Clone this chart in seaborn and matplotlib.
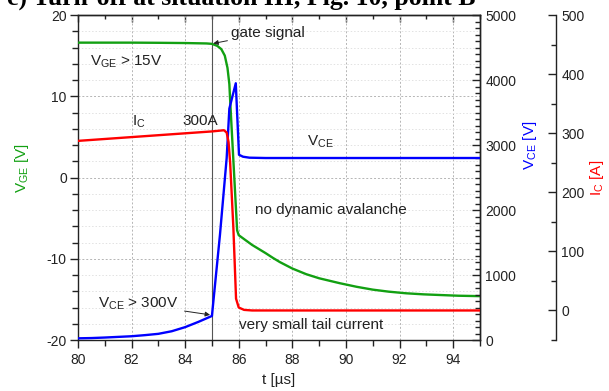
import numpy as np
import pandas as pd
import matplotlib
matplotlib.use('Agg')
import matplotlib.pyplot as plt
import seaborn as sns
from matplotlib.ticker import MultipleLocator

sns.set_theme(style='white')
plt.rcParams['font.family'] = ['Liberation Sans', 'DejaVu Sans']
plt.rcParams['mathtext.fontset'] = 'custom'
plt.rcParams['mathtext.rm'] = 'Liberation Sans'
plt.rcParams['mathtext.it'] = 'Liberation Sans'
plt.rcParams['mathtext.default'] = 'regular'
plt.rcParams['axes.unicode_minus'] = False

# ---- data ----
t_vge = [80, 81, 82, 83, 84, 84.8, 85.0, 85.2, 85.35, 85.48, 85.58, 85.65, 85.68,
         85.94, 86.0, 86.5, 87.0, 87.28, 87.53, 88.0, 88.52, 89.0, 89.76, 90.4,
         91.0, 91.6, 92.25, 92.9, 93.5, 94.2, 95.0]
vge = [16.6, 16.6, 16.6, 16.58, 16.55, 16.5, 16.45, 16.2, 15.8, 15.0, 13.5, 11.5, 9.5,
       -6.5, -7.1, -8.3, -9.3, -9.9, -10.4, -11.2, -11.9, -12.4, -13.0, -13.45,
       -13.8, -14.05, -14.25, -14.38, -14.46, -14.55, -14.6]

t_vce = [80, 80.5, 81, 81.5, 82, 82.5, 83, 83.5, 84, 84.5, 85.0, 85.3, 85.55, 85.65,
         85.89, 86.01, 86.16, 86.4, 87.0, 95.0]
vce = [26, 30, 38, 48, 58, 75, 95, 135, 198, 280, 370, 1620, 2800, 3560,
       3950, 2850, 2820, 2805, 2800, 2800]

t_ic = [80, 85.0, 85.45, 85.55, 85.62, 85.68, 85.8, 85.9, 86.0, 86.2, 86.5, 95.0]
ic = [287, 303, 305, 301, 285, 250, 140, 20, 5, 1, 0, 0]

x_ticks = [80, 82, 84, 86, 88, 90, 92, 94]
vge_ticks = [-20, -10, 0, 10, 20]
vce_ticks = [0, 1000, 2000, 3000, 4000, 5000]
ic_ticks = [0, 100, 200, 300, 400, 500]

GREEN = '#12a012'
BLUE = '#0000ff'
RED = '#ff0000'
SPINE = '#222222'

fig = plt.figure(figsize=(6.09, 3.91), dpi=100)
ax = fig.add_axes([0.128, 0.1304, 0.660, 0.8312])
ax2 = ax.twinx()
ax3 = ax.twinx()
ax3.spines['right'].set_position(('axes', 1.189))

df_g = pd.DataFrame({'t': t_vge, 'v': vge})
df_b = pd.DataFrame({'t': t_vce, 'v': vce})
df_r = pd.DataFrame({'t': t_ic, 'v': ic})

ax.axvline(85.0, color='#555555', lw=0.8, zorder=1)
sns.lineplot(data=df_g, x='t', y='v', ax=ax, color=GREEN, lw=1.7, sort=False, zorder=3)
sns.lineplot(data=df_b, x='t', y='v', ax=ax2, color=BLUE, lw=1.7, sort=False, zorder=3)
sns.lineplot(data=df_r, x='t', y='v', ax=ax3, color=RED, lw=1.7, sort=False, zorder=3)

# limits & ticks
ax.set_xlim(80, 95)
ax.set_ylim(-20, 20)
ax2.set_ylim(0, 5000)
ax3.set_ylim(-50, 500)
ax.set_xticks(x_ticks)
ax.set_yticks(vge_ticks)
ax.xaxis.set_minor_locator(MultipleLocator(1))
ax.yaxis.set_minor_locator(MultipleLocator(2))
ax2.set_yticks(vce_ticks)
ax2.yaxis.set_minor_locator(MultipleLocator(100))
ax3.set_yticks(ic_ticks)
ax3.yaxis.set_minor_locator(MultipleLocator(50))

fs = 10
ax.tick_params(axis='x', which='both', direction='out', bottom=True, top=False,
               labelsize=fs, colors=SPINE, pad=3)
ax.tick_params(axis='x', which='major', length=6, width=1)
ax.tick_params(axis='x', which='minor', length=4, width=1)
ax.tick_params(axis='y', which='both', direction='out', left=True, right=False,
               labelsize=fs, colors=SPINE, pad=2)
ax.tick_params(axis='y', which='major', length=6, width=1)
ax.tick_params(axis='y', which='minor', length=4, width=1)
for a in (ax2, ax3):
    a.tick_params(axis='y', which='both', direction='in', right=True, left=False,
                  labelsize=fs, colors=SPINE, pad=4)
    a.tick_params(axis='y', which='major', length=6, width=1)
    a.tick_params(axis='y', which='minor', length=3.5, width=1)

top = ax.secondary_xaxis('top')
top.set_xticks(x_ticks)
top.xaxis.set_minor_locator(MultipleLocator(1))
top.tick_params(axis='x', which='both', direction='in', labeltop=False, colors=SPINE)
top.tick_params(axis='x', which='major', length=5, width=1)
top.tick_params(axis='x', which='minor', length=3, width=1)
top.spines['top'].set_linewidth(1.0)
top.spines['top'].set_color(SPINE)

for s in ax.spines.values():
    s.set_linewidth(1.0)
    s.set_color(SPINE)
for s in ['left', 'top', 'bottom']:
    ax2.spines[s].set_visible(False)
    ax3.spines[s].set_visible(False)
ax2.spines['right'].set_linewidth(1.0)
ax2.spines['right'].set_color(SPINE)
ax3.spines['right'].set_linewidth(1.0)
ax3.spines['right'].set_color(SPINE)

# grid
ax.grid(which='major', axis='both', linestyle=(0, (2, 2)), color='#b5b5b5', lw=0.7)
ax.grid(which='minor', axis='y', linestyle=(0, (1.5, 2)), color='#e2e2e2', lw=0.7)
ax.set_axisbelow(True)

# labels
ax.set_xlabel('t [µs]', fontsize=11, color=SPINE)
ax.xaxis.set_label_coords(0.5, -0.103)
ax.set_ylabel('V$_{GE}$ [V]', fontsize=11, color=GREEN)
ax.yaxis.set_label_coords(-0.117, 0.53)
ax2.set_ylabel('V$_{CE}$ [V]', fontsize=11, color=BLUE)
ax2.yaxis.set_label_coords(1.102, 0.6)
ax3.set_ylabel('I$_{C}$ [A]', fontsize=11, color=RED)
ax3.yaxis.set_label_coords(1.27, 0.5)

# annotations
tf = 11
ax.annotate('gate signal', xy=(85.05, 16.5), xytext=(85.7, 17.8), fontsize=tf,
            color=SPINE, va='center', ha='left',
            arrowprops=dict(arrowstyle='-|>', color=SPINE, lw=0.7, mutation_scale=7,
                            shrinkA=0, shrinkB=0))
ax.text(80.45, 14.2, 'V$_{GE}$ > 15V', fontsize=tf, color=SPINE, va='center', ha='left')
ax.text(82.0, 6.9, 'I$_{C}$', fontsize=tf, color=SPINE, va='center', ha='left')
ax.text(83.9, 7.0, '300A', fontsize=tf, color=SPINE, va='center', ha='left')
ax.text(88.55, 4.4, 'V$_{CE}$', fontsize=tf, color=SPINE, va='center', ha='left')
ax.text(86.6, -4.0, 'no dynamic avalanche', fontsize=tf, color=SPINE, va='center', ha='left')
ax.annotate('V$_{CE}$ > 300V', xy=(84.93, -16.9), xytext=(80.75, -15.6), fontsize=tf,
            color=SPINE, va='center', ha='left',
            arrowprops=dict(arrowstyle='-|>', color=SPINE, lw=0.7, mutation_scale=7,
                            shrinkA=2, shrinkB=0))
ax.text(86.0, -18.2, 'very small tail current', fontsize=tf, color=SPINE, va='center', ha='left')

fig.text(0.012, (391 - 5) / 391, 'c) Turn-off at situation III, Fig. 10, point B',
         fontsize=18.5, fontweight='bold', family=['Liberation Serif', 'DejaVu Serif'],
         va='baseline', ha='left', color='black')

fig.savefig('out.png', dpi=100)
